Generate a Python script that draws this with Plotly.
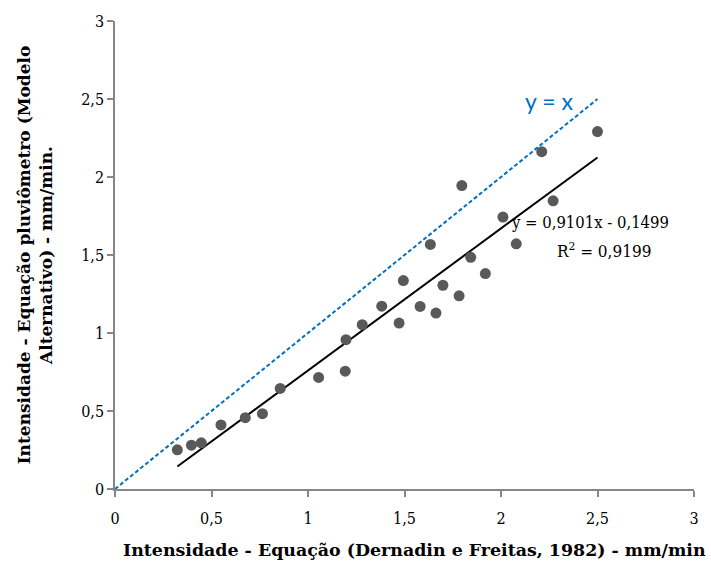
import plotly.graph_objects as go

x_vals = [0.323, 0.396, 0.447, 0.549, 0.675, 0.764, 0.856, 1.055, 1.193, 1.197,
          1.281, 1.382, 1.472, 1.494, 1.581, 1.634, 1.663, 1.699, 1.783, 1.797,
          1.843, 1.919, 2.010, 2.079, 2.211, 2.270, 2.500]
y_vals = [0.251, 0.281, 0.296, 0.411, 0.457, 0.483, 0.645, 0.715, 0.755, 0.957,
          1.053, 1.172, 1.064, 1.336, 1.170, 1.568, 1.128, 1.306, 1.238, 1.945,
          1.485, 1.381, 1.743, 1.572, 2.162, 1.847, 2.291]
slope, intercept = 0.9101, -0.1499
ident_x = [0, 2.5]
tick_vals = [0, 0.5, 1, 1.5, 2, 2.5, 3]
tick_text = ["0", "0,5", "1", "1,5", "2", "2,5", "3"]

FONT = "DejaVu Serif Condensed, DejaVu Serif, serif"
TFONT = "DejaVu Serif, serif"

fig = go.Figure()
fig.add_trace(go.Scatter(x=ident_x, y=ident_x, mode="lines",
                         line=dict(color="#0070C0", width=2, dash="4px,2.5px"),
                         showlegend=False, hoverinfo="skip"))
tx = [min(x_vals), max(x_vals)]
fig.add_trace(go.Scatter(x=tx, y=[slope * v + intercept for v in tx], mode="lines",
                         line=dict(color="black", width=2), showlegend=False))
fig.add_trace(go.Scatter(x=x_vals, y=y_vals, mode="markers",
                         marker=dict(color="#595959", size=11),
                         showlegend=False))

axis_common = dict(range=[0, 3], tickvals=tick_vals, ticktext=tick_text,
                   showgrid=False, zeroline=False, showline=True,
                   linecolor="#868686", linewidth=1.5, ticks="outside",
                   tickcolor="#868686", ticklen=6, tickwidth=1.5,
                   tickfont=dict(family=FONT, size=16, color="black"))

fig.update_xaxes(**axis_common, ticklabelstandoff=8)
fig.update_yaxes(**axis_common,
                 title=dict(text="<b>Intensidade - Equação pluviômetro (Modelo<br>Alternativo) - mm/min.</b>",
                            font=dict(family=TFONT, size=17, color="black"), standoff=24))

# x-axis title placed as annotation (slightly right of plot center, as in reference)
fig.add_annotation(x=(415 - 115) / 580, y=-(550 - 489) / 471, xref="paper", yref="paper",
                   text="<b>Intensidade - Equação (Dernadin e Freitas, 1982) - mm/min</b>",
                   showarrow=False, font=dict(family=TFONT, size=17.4, color="black"),
                   xanchor="center", yanchor="middle")

fig.add_annotation(x=2.25, y=2.49, xref="x", yref="y", text="y = x", showarrow=False,
                   font=dict(family="Lato, sans-serif", size=23, color="#0070C0"))
fig.add_annotation(x=2.462, y=1.707, xref="x", yref="y", text="y = 0,9101x - 0,1499",
                   showarrow=False, font=dict(family=FONT, size=16.5, color="black"))
fig.add_annotation(x=2.535, y=1.529, xref="x", yref="y", text="R<sup>2</sup> = 0,9199",
                   showarrow=False, font=dict(family=FONT, size=17, color="black"))

fig.update_layout(width=711, height=563, plot_bgcolor="white", paper_bgcolor="white",
                  margin=dict(l=115, r=16, t=18, b=74))
fig.write_html("out.html")
